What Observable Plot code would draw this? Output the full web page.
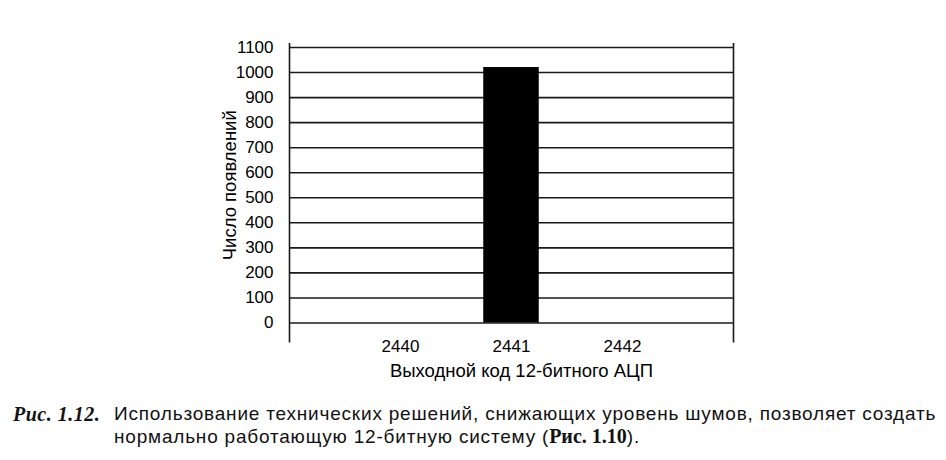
<!DOCTYPE html>
<html>
<head>
<meta charset="utf-8">
<script src="https://cdn.jsdelivr.net/npm/d3@7"></script>
<script src="https://cdn.jsdelivr.net/npm/@observablehq/plot@0.6"></script>
<style>
  html, body { margin: 0; padding: 0; background: #fff; }
  #chart svg { display: block; }
  .caption {
    position: relative;
    margin: 0;
    padding-left: 114px;
    white-space: nowrap;
    font-family: "Liberation Sans", Arial, sans-serif;
    font-size: 19px;
    line-height: 22px;
    letter-spacing: 0.8px;
    color: #111;
  }
  .caption .fig {
    position: absolute;
    left: 13px;
    top: 0;
    font-family: "Liberation Serif", "Times New Roman", serif;
    font-style: italic;
    font-weight: bold;
    font-size: 20px;
    letter-spacing: 0.5px;
  }
  .caption .ref {
    font-family: "Liberation Serif", "Times New Roman", serif;
    font-weight: bold;
    font-size: 20px;
    letter-spacing: 0;
  }
</style>
</head>
<body>
<div id="chart"></div>
<div class="caption"><span class="fig">Рис. 1.12.</span>Использование технических решений, снижающих уровень шумов, позволяет создать<br>нормально работающую 12-битную систему (<span class="ref">Рис. 1.10</span>).</div>
<script>
// Data
const codes = [2440, 2441, 2442];
const counts = [0, 1020, 0];
const yTicks = [0, 100, 200, 300, 400, 500, 600, 700, 800, 900, 1000, 1100];
const xEdges = [2439, 2443];
const yTitle = "Число появлений";
const xTitle = "Выходной код 12-битного АЦП";

const bars = codes.map((c, i) => ({code: c, count: counts[i]}));
const halfWidth = 0.25;

const chart = Plot.plot({
  width: 946,
  height: 403,
  marginLeft: 289,
  marginRight: 213,
  marginTop: 47,
  marginBottom: 80.5,
  style: {fontFamily: "'Liberation Sans', Arial, sans-serif", color: "#000", background: "#fff"},
  x: {type: "linear", domain: xEdges},
  y: {domain: [0, 1100]},
  marks: [
    Plot.ruleY(yTicks, {x1: xEdges[0], x2: xEdges[1], stroke: "#1a1a1a", strokeWidth: 1.6}),
    Plot.ruleX(xEdges, {y1: -80, y2: 1116, stroke: "#1a1a1a", strokeWidth: 1.6, clip: false}),
    Plot.rectY(bars, {x1: d => d.code - halfWidth, x2: d => d.code + halfWidth, y1: 0, y2: "count", fill: "#000"}),
    Plot.axisY(yTicks, {tickSize: 0, tickPadding: 16, fontSize: 17, fill: "#000", label: null, tickFormat: d => String(d)}),
    Plot.axisX(codes, {tickSize: 0, tickPadding: 17, fontSize: 17, fill: "#000", label: null, tickFormat: d => String(d)}),
    Plot.text([yTitle], {frameAnchor: "left", y: 550, rotate: -90, dx: -59, fontSize: 18.5, fill: "#000", text: d => d, lineAnchor: "middle", textAnchor: "middle"}),
    Plot.text([xTitle], {frameAnchor: "bottom", x: 2441, dx: 10, dy: 41, fontSize: 18.5, fill: "#000", text: d => d, lineAnchor: "top", textAnchor: "middle"})
  ]
});
document.getElementById("chart").appendChild(chart);
</script>
</body>
</html>
